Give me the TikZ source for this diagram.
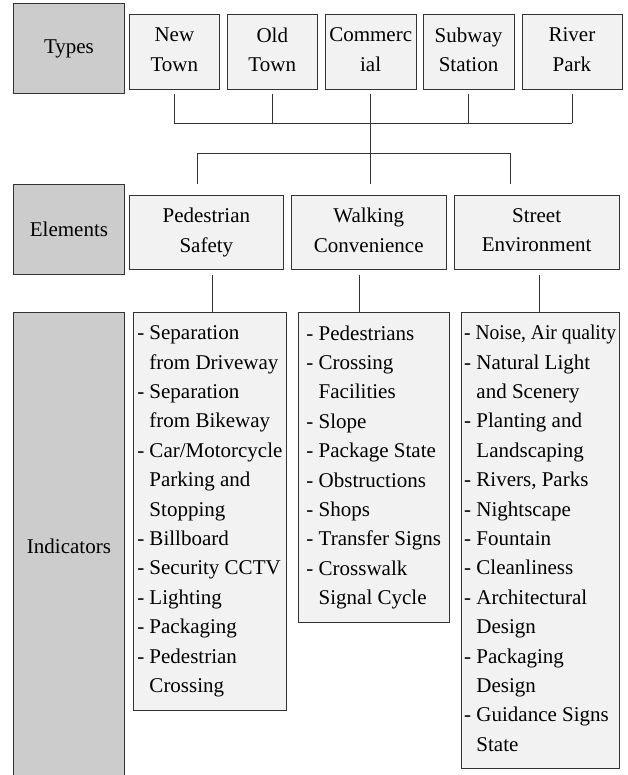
\documentclass[tikz,border=0pt]{standalone}
\usepackage{fontspec}
\setmainfont{Liberation Serif}
\usepackage{graphicx}
\usepackage{tikz}
\usetikzlibrary{positioning}
\definecolor{darkline}{rgb}{0.2,0.2,0.2}
\definecolor{labelgray}{rgb}{0.8,0.8,0.8}
\definecolor{boxgray}{rgb}{0.95,0.95,0.95}
\newcommand{\contd}{\hphantom{-\ }}

\begin{document}
\begin{tikzpicture}[
            x = 1pt, y = 1pt, % one unit is one point
            semithick
        ]

        \tikzstyle{label}=[
            draw = darkline,
            fill = labelgray,
            line width = 0.9pt,
            minimum width = 111pt,
            inner sep = 2pt,
            font = \fontsize{21}{29.4}\selectfont
        ]
        \tikzstyle{item}=[
            draw = darkline,
            fill = boxgray,
            line width = 0.9pt,
            inner sep = 2pt,
            align = center,
            font = \fontsize{21}{29.4}\selectfont,
            execute at end node = {\vphantom{y}} % same depth for every last line
        ]
        \tikzstyle{link}=[
            draw = darkline,
            line width = 0.9pt
        ]

        \useasboundingbox (0,0) rectangle (628,-775);

	% types level
        \node[label, minimum height = 90pt, anchor = north west] (TY) at (13,-3) {Types};
        \node[item, minimum width = 90pt, minimum height = 75pt, right = 4pt of TY, yshift = -3.5pt] (NT) {New\\Town};
        \node[item, minimum width = 90pt, minimum height = 75pt, right = 7pt of NT] (OT) {Old\\Town};
        \node[item, minimum width = 91pt, minimum height = 75pt, right = 7pt of OT] (CM) {Commerc\\ial};
        \node[item, minimum width = 91pt, minimum height = 75pt, right = 6pt of CM] (SS) {Subway\\Station};
        \node[item, minimum width = 100pt, minimum height = 75pt, right = 7pt of SS] (RP) {River\\Park};

         % elements level
        \node[label, minimum height = 90pt, anchor = north west] (EL) at (13,-184) {Elements};
        \node[item, minimum width = 154pt, minimum height = 74pt, right = 4pt of EL, yshift = -3pt] (PS) {Pedestrian\\Safety};
        \node[item, minimum width = 155pt, minimum height = 74pt, right = 7pt of PS] (WC) {Walking\\Convenience};
        \node[item, minimum width = 165pt, minimum height = 74pt, right = 7pt of WC] (SE) {Street\\Environment};

         % indicators level
        \node[label, minimum height = 468pt, anchor = north west] (IN) at (13,-312) {Indicators};
        \node[item, align = left, minimum width = 153pt, minimum height = 398pt,
              right = 8pt of IN.north east, anchor = north west] (PSI)
              {- Separation\\\contd from Driveway\\- Separation\\\contd from Bikeway\\- Car/Motorcycle\\\contd Parking and\\\contd Stopping\\- Billboard\\- Security CCTV\\- Lighting\\- Packaging\\- Pedestrian\\\contd Crossing};
        \node[item, align = left, minimum width = 151pt, minimum height = 310pt,
              right = 11pt of PSI.north east, anchor = north west] (WCI)
              {- Pedestrians\\- Crossing\\\contd Facilities\\- Slope\\- Package State\\- Obstructions\\- Shops\\- Transfer Signs\\- Crosswalk\\\contd Signal Cycle};
        \node[item, align = left, minimum width = 158pt, minimum height = 456pt,
              right = 11pt of WCI.north east, anchor = north west] (SEI)
              {\scalebox{0.93}[1]{- Noise, Air quality}\\- Natural Light\\\contd and Scenery\\- Planting and\\\contd Landscaping\\- Rivers, Parks\\- Nightscape\\- Fountain\\- Cleanliness\\- Architectural\\\contd Design\\- Packaging\\\contd Design\\- Guidance Signs\\\contd State};

         % types to elements
        \coordinate (B1) at (0,-123);
        \coordinate (B2L) at (197,-153);
        \coordinate (B2R) at (510,-153);

        \draw[link, shorten <= 4pt] (NT.south) -- (NT.south |- B1);
        \draw[link, shorten <= 4pt] (OT.south) -- (OT.south |- B1);
        \draw[link, shorten <= 4pt] (SS.south) -- (SS.south |- B1);
        \draw[link, shorten <= 4pt] (RP.south) -- (RP.south |- B1);
        \draw[link, shorten <= 4pt] (CM.south) -- (CM.south |- EL.north);
        \draw[link] (NT.south |- B1) -- (RP.south |- B1);
        \draw[link] (B2L |- EL.north) -- (B2L) -- (B2R) -- (B2R |- EL.north);

         % elements to indicators
        \draw[link] ([xshift = 2.5pt]PSI.north) -- ([xshift = 2.5pt]PSI.north |- EL.south);
        \draw[link] ([xshift = -14.5pt]WCI.north) -- ([xshift = -14.5pt]WCI.north |- EL.south);
        \draw[link] ([xshift = -1pt]SEI.north) -- ([xshift = -1pt]SEI.north |- EL.south);

  \end{tikzpicture}
\end{document}
